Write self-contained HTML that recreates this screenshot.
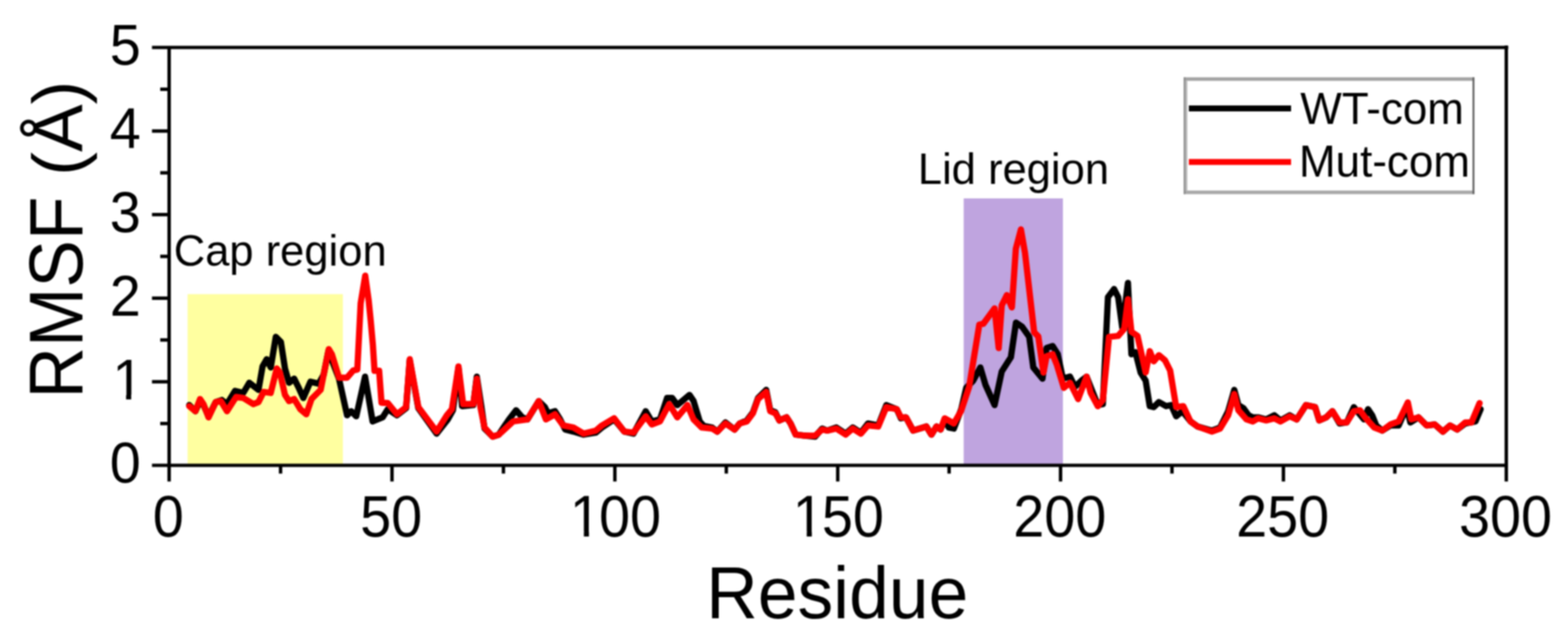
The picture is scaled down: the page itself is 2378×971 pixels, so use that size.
<!DOCTYPE html>
<html lang="en"><head><meta charset="utf-8"><title>RMSF per residue</title>
<style>html,body{margin:0;padding:0;background:#fff;}body{width:2378px;height:971px;overflow:hidden;}svg{display:block;filter:blur(1px);}text{font-family:"Liberation Sans",sans-serif;fill:#000;}</style>
</head><body>
<svg width="2378" height="971" viewBox="0 0 2378 971">
<rect x="0" y="0" width="2378" height="971" fill="#ffffff"/>
<rect x="284.5" y="446.3" width="235.5" height="261.2" fill="#ffffa0"/>
<rect x="1461.5" y="301" width="150.5" height="406.5" fill="#bfa4df"/>
<g stroke="#000" stroke-width="5.2" fill="none" stroke-linecap="butt">
<path d="M230.5,72.0 H2287.4"/>
<path d="M230.5,706.0 H2284.4"/>
<path d="M256.5,72.0 V730.5"/>
<path d="M2284.4,69.0 V730.5"/>
<path d="M230.5,579.2 H256.5"/>
<path d="M230.5,452.4 H256.5"/>
<path d="M230.5,325.6 H256.5"/>
<path d="M230.5,198.8 H256.5"/>
<path d="M243,642.6 H256.5"/>
<path d="M243,515.8 H256.5"/>
<path d="M243,389.0 H256.5"/>
<path d="M243,262.2 H256.5"/>
<path d="M243,135.4 H256.5"/>
<path d="M594.5,706.0 V730.5"/>
<path d="M932.5,706.0 V730.5"/>
<path d="M1270.5,706.0 V730.5"/>
<path d="M1608.4,706.0 V730.5"/>
<path d="M1946.4,706.0 V730.5"/>
<path d="M425.5,706.0 V718.5"/>
<path d="M763.5,706.0 V718.5"/>
<path d="M1101.5,706.0 V718.5"/>
<path d="M1439.4,706.0 V718.5"/>
<path d="M1777.4,706.0 V718.5"/>
<path d="M2115.4,706.0 V718.5"/>
</g>
<path d="M287.0,614.6 L296.3,623.9 L303.4,608.5 L308.6,614.6 L316.3,631.6 L327.2,610.0 L336.4,606.9 L344.2,613.1 L356.5,593.0 L368.9,596.1 L378.1,580.7 L392.0,591.5 L398.2,555.9 L404.4,545.1 L410.6,557.5 L418.3,511.1 L426.0,518.9 L432.2,559.0 L438.4,580.7 L446.1,574.5 L452.3,586.8 L460.0,603.8 L470.8,579.1 L483.2,582.2 L490.9,568.3 L498.0,532.8 L514.1,574.5 L526.4,630.1 L532.6,623.9 L540.3,631.6 L553.6,571.4 L565.1,639.4 L580.3,633.2 L588.1,620.8 L602.0,630.1 L615.9,619.3 L621.4,546.7 L634.4,619.3 L662.2,657.9 L679.2,636.3 L686.9,622.4 L695.3,557.5 L700.8,616.2 L717.8,614.6 L723.1,571.4 L730.2,617.7 L734.8,650.2 L747.2,662.5 L756.4,659.4 L771.9,636.3 L782.7,622.4 L792.0,633.2 L800.0,636.3 L817.1,608.5 L826.3,617.7 L831.0,627.0 L841.8,623.9 L849.5,636.3 L857.2,651.7 L869.6,654.8 L885.0,659.4 L903.6,656.4 L912.9,648.6 L931.4,636.3 L946.8,654.8 L960.7,657.9 L979.3,623.9 L988.5,639.4 L1000.9,636.3 L1011.7,603.8 L1019.4,603.8 L1027.2,614.6 L1045.7,599.2 L1051.9,608.5 L1061.2,639.4 L1067.3,646.2 L1080.0,648.6 L1087.8,654.8 L1100.2,640.9 L1114.1,651.7 L1121.8,642.5 L1132.6,637.8 L1141.9,625.5 L1149.6,603.8 L1162.0,591.5 L1168.1,622.4 L1175.9,625.5 L1182.0,637.8 L1192.9,633.2 L1199.0,642.5 L1206.8,659.4 L1220.7,661.0 L1236.1,662.5 L1246.9,650.2 L1254.6,653.3 L1268.5,648.6 L1282.5,657.9 L1293.3,648.6 L1305.6,656.4 L1316.4,642.5 L1331.9,645.5 L1344.2,614.6 L1360.0,620.8 L1366.3,634.7 L1374.0,633.2 L1384.8,653.3 L1404.9,647.1 L1412.6,659.4 L1420.3,647.1 L1426.5,651.7 L1432.7,636.3 L1438.9,648.6 L1446.6,650.2 L1458.0,620.2 L1465.4,588.4 L1475.9,577.6 L1486.8,557.5 L1494.5,583.7 L1508.4,614.6 L1519.2,563.7 L1533.1,542.0 L1540.8,489.5 L1550.1,495.7 L1560.9,511.1 L1567.1,557.5 L1581.0,574.5 L1587.2,528.1 L1596.4,525.0 L1604.2,537.4 L1611.9,574.5 L1622.7,571.4 L1630.4,586.8 L1640.0,577.6 L1647.9,571.4 L1664.9,614.6 L1672.6,613.1 L1680.3,450.9 L1689.6,438.5 L1695.8,450.9 L1702.0,497.2 L1710.6,429.3 L1715.9,537.4 L1722.0,534.3 L1729.8,565.2 L1737.5,577.6 L1743.7,616.2 L1749.8,617.7 L1757.6,610.0 L1768.4,616.2 L1776.1,614.6 L1783.8,631.6 L1793.1,623.9 L1805.5,639.4 L1816.3,647.1 L1837.9,653.3 L1850.3,648.6 L1862.6,623.9 L1871.9,591.5 L1878.1,614.6 L1885.8,619.3 L1893.5,630.1 L1900.0,633.2 L1908.0,633.2 L1920.3,636.3 L1932.7,630.1 L1942.0,637.8 L1955.9,630.1 L1966.7,636.3 L1980.6,614.6 L1994.5,617.7 L2000.7,637.8 L2011.5,633.2 L2020.7,623.9 L2031.6,642.5 L2042.4,640.9 L2053.2,617.7 L2068.6,636.3 L2074.8,620.8 L2081.0,630.1 L2087.2,645.5 L2096.4,653.3 L2108.8,645.5 L2121.2,645.5 L2133.5,617.7 L2138.9,640.9 L2151.2,633.2 L2163.6,645.5 L2175.9,644.0 L2188.3,654.8 L2199.1,645.5 L2209.9,651.7 L2222.3,642.5 L2237.7,639.4 L2245.5,620.8" fill="none" stroke="#000" stroke-width="9.5" stroke-linejoin="round" stroke-linecap="round"/>
<path d="M287.0,616.2 L296.3,623.9 L303.4,605.4 L308.6,613.1 L316.3,633.2 L327.2,610.0 L334.9,608.5 L344.2,623.9 L358.1,602.3 L368.9,603.8 L384.3,613.1 L392.0,610.0 L399.8,594.6 L410.6,596.1 L419.8,559.0 L424.5,565.2 L432.2,599.2 L438.4,608.5 L446.1,605.4 L455.4,620.8 L464.6,628.5 L472.4,605.4 L486.3,591.5 L498.6,529.7 L503.3,537.4 L514.1,572.9 L526.4,572.9 L535.7,562.1 L541.9,560.6 L547.0,460.0 L553.9,418.3 L559.1,455.6 L562.2,486.5 L565.5,523.5 L568.0,562.6 L575.0,562.6 L578.6,611.0 L588.1,611.6 L602.0,628.5 L615.9,617.7 L621.4,545.1 L626.7,574.5 L634.4,617.7 L662.2,654.8 L677.7,630.1 L685.4,620.8 L695.3,555.9 L702.4,613.1 L717.8,613.1 L723.1,574.5 L728.6,617.7 L734.8,648.6 L747.2,662.5 L756.4,659.4 L778.1,639.4 L800.0,636.3 L817.1,608.5 L827.9,636.3 L841.8,628.5 L854.2,645.5 L869.6,648.6 L885.0,657.9 L903.6,653.3 L912.9,645.5 L931.4,634.7 L946.8,654.8 L960.7,656.4 L979.3,631.6 L988.5,644.0 L1000.9,639.4 L1014.8,613.1 L1027.2,633.2 L1042.6,614.6 L1051.9,636.3 L1064.2,648.6 L1080.0,650.2 L1087.8,654.8 L1100.2,642.5 L1114.1,651.7 L1121.8,642.5 L1132.6,639.4 L1141.9,627.0 L1149.6,605.4 L1162.0,594.6 L1168.1,623.9 L1175.9,627.0 L1182.0,637.8 L1192.9,633.2 L1199.0,642.5 L1206.8,659.4 L1220.7,661.0 L1236.1,661.0 L1246.9,651.7 L1254.6,653.3 L1268.5,650.2 L1282.5,659.4 L1293.3,650.2 L1305.6,657.9 L1316.4,645.5 L1331.9,647.1 L1344.2,617.7 L1360.0,620.8 L1366.3,633.2 L1374.0,633.2 L1384.8,653.3 L1404.9,647.1 L1412.6,659.4 L1420.3,647.1 L1426.5,651.7 L1432.7,634.7 L1446.6,642.5 L1457.4,623.9 L1469.8,586.8 L1485.2,492.6 L1491.4,491.1 L1508.4,467.9 L1514.6,528.1 L1519.2,463.3 L1526.9,447.8 L1534.6,466.3 L1540.6,377.4 L1548.3,348.1 L1554.5,383.6 L1568.4,504.1 L1574.6,510.3 L1582.5,565.2 L1587.2,540.5 L1596.4,537.4 L1602.6,552.9 L1613.4,588.4 L1622.7,580.7 L1635.1,605.4 L1647.9,571.4 L1654.1,596.1 L1664.9,616.2 L1672.6,606.9 L1681.9,511.1 L1695.8,509.6 L1705.0,498.8 L1710.6,454.0 L1715.9,503.4 L1725.1,509.6 L1737.5,565.2 L1743.7,532.8 L1749.8,548.2 L1757.6,538.9 L1766.8,546.7 L1774.6,562.1 L1783.8,617.7 L1794.6,616.2 L1805.5,639.4 L1816.3,647.1 L1837.9,654.8 L1850.3,650.2 L1862.6,630.1 L1871.9,597.7 L1878.1,622.4 L1890.4,636.3 L1900.0,639.4 L1908.0,634.7 L1920.3,637.8 L1932.7,634.7 L1942.0,639.4 L1955.9,631.6 L1966.7,636.3 L1980.6,614.6 L1994.5,617.7 L2000.7,637.8 L2011.5,633.2 L2020.7,623.9 L2031.6,640.9 L2042.4,640.9 L2053.2,623.9 L2062.5,622.4 L2070.2,633.2 L2084.1,648.6 L2096.4,653.3 L2108.8,644.0 L2121.2,639.4 L2135.1,610.6 L2140.4,636.3 L2151.2,633.2 L2163.6,645.5 L2175.9,644.0 L2188.3,654.8 L2199.1,645.5 L2209.9,651.7 L2222.3,640.9 L2231.6,640.9 L2243.9,611.6" fill="none" stroke="#ff0000" stroke-width="9.5" stroke-linejoin="round" stroke-linecap="round"/>
<text transform="translate(213.5,732.3) scale(1,1.04)" font-size="84.5" text-anchor="end">0</text>
<text transform="translate(217.5,605.5) scale(1,1.04)" font-size="84.5" text-anchor="end">1</text>
<text transform="translate(213.5,478.7) scale(1,1.04)" font-size="84.5" text-anchor="end">2</text>
<text transform="translate(213.5,351.9) scale(1,1.04)" font-size="84.5" text-anchor="end">3</text>
<text transform="translate(213.5,225.1) scale(1,1.04)" font-size="84.5" text-anchor="end">4</text>
<text transform="translate(213.5,98.3) scale(1,1.04)" font-size="84.5" text-anchor="end">5</text>
<text transform="translate(255.3,814.0) scale(1,1.05)" font-size="84.5" text-anchor="middle">0</text>
<text transform="translate(593.3,814.0) scale(1,1.05)" font-size="84.5" text-anchor="middle">50</text>
<text transform="translate(930.5,814.0) scale(1,1.05)" font-size="84.5" text-anchor="middle" dx="2.8 -2.8">100</text>
<text transform="translate(1268.5,814.0) scale(1,1.05)" font-size="84.5" text-anchor="middle" dx="2.8 -2.8">150</text>
<text transform="translate(1607.2,814.0) scale(1,1.05)" font-size="84.5" text-anchor="middle">200</text>
<text transform="translate(1945.2,814.0) scale(1,1.05)" font-size="84.5" text-anchor="middle">250</text>
<text transform="translate(2283.2,814.0) scale(1,1.05)" font-size="84.5" text-anchor="middle">300</text>
<rect x="175" y="598.5" width="16.25" height="8.00" fill="#fff"/>
<rect x="198.95" y="598.5" width="16.05" height="8.00" fill="#fff"/>
<rect x="868.5" y="806" width="17.00" height="9.50" fill="#fff"/>
<rect x="893.2" y="806" width="14.80" height="9.50" fill="#fff"/>
<rect x="1206.5" y="806" width="17.00" height="9.50" fill="#fff"/>
<rect x="1231.2" y="806" width="14.80" height="9.50" fill="#fff"/>
<text transform="translate(1269.7,938.0) scale(1,1.02)" font-size="108.3" text-anchor="middle">Residue</text>
<g><text transform="translate(124.6,604.8) rotate(-90) scale(1,1.055)" font-size="108.3" text-anchor="start">RMSF </text><text transform="translate(124.6,122.3) rotate(-90)" font-size="108.3" text-anchor="end">(Å)</text></g>
<text transform="translate(263.5,402.7) scale(1,1.02)" font-size="66" text-anchor="start">Cap region</text>
<text transform="translate(1392.0,279.0) scale(1,1.02)" font-size="66" text-anchor="start">Lid region</text>
<rect x="1795.1" y="117.3" width="441" height="177.2" fill="#fff"/>
<rect x="1795.1" y="117.3" width="441" height="5.3" fill="#a2a2a2"/>
<rect x="1795.1" y="289.1" width="441" height="5.4" fill="#a8a8a8"/>
<rect x="1795.1" y="117.3" width="2.8" height="177.2" fill="#8e8e8e"/>
<rect x="1797.9" y="122.6" width="2.8" height="166.5" fill="#b8b8b8"/>
<rect x="2233.2" y="117.3" width="2.9" height="177.2" fill="#626262"/>
<path d="M1803,164.5 H1958" stroke="#000" stroke-width="9" fill="none"/>
<path d="M1803,245.8 H1958" stroke="#ff0000" stroke-width="9" fill="none"/>
<text transform="translate(1972.0,187.6) scale(1,1.03)" font-size="66.7" text-anchor="start">WT-com</text>
<text transform="translate(1970.0,268.1) scale(1,1.03)" font-size="66.7" text-anchor="start">Mut-com</text>
</svg>
</body></html>
